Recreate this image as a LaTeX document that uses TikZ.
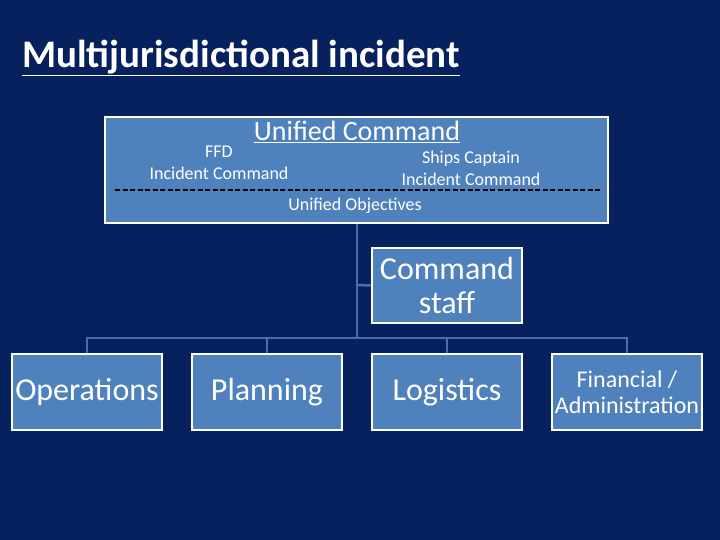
\documentclass[tikz,border=0pt]{standalone}
\usepackage{fontspec}
\setmainfont{Carlito}
\begin{document}
\begin{tikzpicture}[x=1pt,y=-1pt,
  box/.style={draw=white,line width=2.5pt,fill=boxblue,text=white,align=center,inner sep=0pt},
  conn/.style={draw=connblue,line width=2.5pt},
  t/.style={text=white,inner sep=0pt,align=center}]
\definecolor{bg}{HTML}{06215E}
\definecolor{boxblue}{HTML}{4F81BD}
\definecolor{connblue}{HTML}{4A6FA8}
\fill[bg] (0,0) rectangle (720,540);
\useasboundingbox (0,0) rectangle (720,540);
\node[t,anchor=west,font=\bfseries\fontsize{39}{44}\selectfont] (title) at (22,58) {\underline{Multijurisdictional incident}};
\node[box,minimum width=503,minimum height=106] (uc) at (356.5,170) {};
\node[t,font=\fontsize{28}{32}\selectfont] (uct) at (357,132) {\underline{Unified Command}};
\node[t,font=\fontsize{18}{22}\selectfont] (ffd) at (219,163) {FFD\\Incident Command};
\node[t,font=\fontsize{18}{22}\selectfont] (sc) at (471,168) {Ships Captain\\Incident Command};
\coordinate (dl) at (115,190); \coordinate (dr) at (600,190);
\draw[black,line width=2pt,dash pattern=on 5pt off 2.5pt] (dl) -- (dr);
\node[t,font=\fontsize{18}{22}\selectfont] (uo) at (355,206) {Unified Objectives};
\node[box,minimum width=150,minimum height=75,font=\fontsize{32}{34}\selectfont] (cs) at (447,285.5) {Command\\staff};
\node[box,minimum width=150,minimum height=76,font=\fontsize{32}{34}\selectfont] (op) at (87,392) {Operations};
\node[box,minimum width=150,minimum height=76,font=\fontsize{32}{34}\selectfont] (pl) at (267,392) {Planning};
\node[box,minimum width=150,minimum height=76,font=\fontsize{32}{34}\selectfont] (lo) at (447,392) {Logistics};
\node[box,minimum width=150,minimum height=76,font=\fontsize{24}{26}\selectfont] (fi) at (627,392) {Financial /\\Administration};
\coordinate (j) at (357,338);
\draw[conn] (uc.south -| j) -- (j);
\draw[conn] (357,285) -- (cs.west);
\draw[conn] (op.north) -- (87,338) -- (627,338) -- (fi.north);
\draw[conn] (pl.north) -- (267,338);
\draw[conn] (lo.north) -- (447,338);
\end{tikzpicture}
\end{document}
